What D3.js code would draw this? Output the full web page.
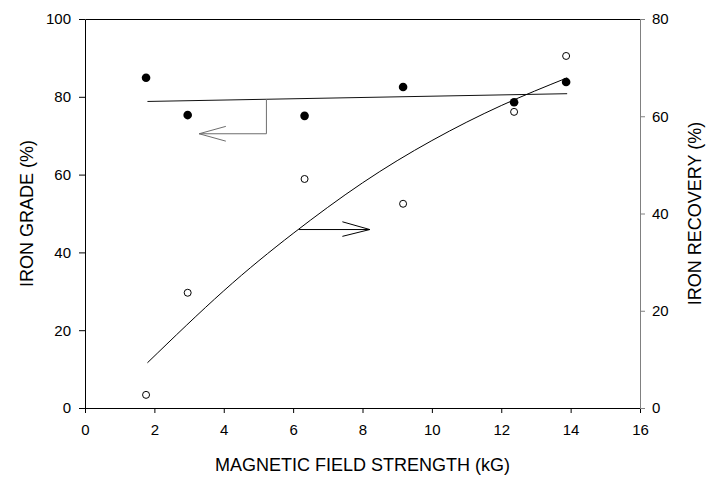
<!DOCTYPE html>
<html>
<head>
<meta charset="utf-8">
<script src="https://cdn.jsdelivr.net/npm/d3@7"></script>
<style>
  html, body { margin: 0; padding: 0; background: #fff; }
  svg { display: block; font-family: "Liberation Sans", Arial, sans-serif; }
</style>
</head>
<body>
<svg id="chart" width="708" height="479"></svg>
<script>
// Measured data: magnetic field strength vs. iron grade and iron recovery
const fieldStrength = [1.76, 2.96, 6.33, 9.17, 12.37, 13.87];
const ironGrade     = [84.9, 75.3, 75.1, 82.5, 78.6, 83.8];
const ironRecovery  = [2.7, 23.7, 47.1, 42.0, 60.9, 72.4];

// Fitted trend lines
const gradeFitX     = [1.8, 13.9];
const gradeFit      = [78.8, 80.8];
const recoveryFitX  = [1.8, 4, 6, 8, 10, 12, 13.9];
const recoveryFit   = [9.3, 24.1, 35.9, 46.3, 55.0, 62.2, 67.9];

// Axis ticks
const xTicks = [0, 2, 4, 6, 8, 10, 12, 14, 16];
const gradeTicks = [0, 20, 40, 60, 80, 100];
const recoveryTicks = [0, 20, 40, 60, 80];

// Pointer arrows tying each curve to its axis (data units)
const gradeArrow = [[5.23, 79.4], [5.23, 70.5], [3.29, 70.5]];
const gradeArrowHead = [[4.06, 72.4], [3.29, 70.5], [4.06, 68.6]];
const recoveryArrow = [[6.17, 36.7], [8.21, 36.7]];
const recoveryArrowHead = [[7.42, 38.3], [8.21, 36.7], [7.42, 35.3]];

const svg = d3.select("#chart");
const plotLeft = 85, plotRight = 640, plotTop = 19, plotBottom = 408;

const x = d3.scaleLinear().domain([0, 16]).range([plotLeft, plotRight]);
const yGrade = d3.scaleLinear().domain([0, 100]).range([plotBottom, plotTop]);
const yRec = d3.scaleLinear().domain([0, 80]).range([plotBottom, plotTop]);

// Top frame line
svg.append("line")
  .attr("x1", plotLeft + 0.5).attr("x2", plotRight + 0.5)
  .attr("y1", plotTop + 0.5).attr("y2", plotTop + 0.5)
  .attr("stroke", "#000").attr("stroke-width", 1);

// Bottom axis
const gx = svg.append("g").attr("transform", `translate(0,${plotBottom})`)
  .call(d3.axisBottom(x).tickValues(xTicks).tickFormat(d3.format("d"))
    .tickSize(5).tickSizeOuter(0).tickPadding(11));

// Left axis (grade)
const gl = svg.append("g").attr("transform", `translate(${plotLeft},0)`)
  .call(d3.axisLeft(yGrade).tickValues(gradeTicks).tickFormat(d3.format("d"))
    .tickSize(6).tickSizeOuter(0).tickPadding(8));

// Right axis (recovery)
const gr = svg.append("g").attr("transform", `translate(${plotRight},0)`)
  .call(d3.axisRight(yRec).tickValues(recoveryTicks).tickFormat(d3.format("d"))
    .tickSize(5).tickSizeOuter(0).tickPadding(7));

[gx, gl, gr].forEach(g => {
  g.selectAll("text").attr("font-size", 15).attr("fill", "#000")
    .attr("font-family", "'Liberation Sans', Arial, sans-serif");
  g.selectAll("path, line").attr("stroke", "#000");
});
gr.selectAll("path, line").attr("stroke", "#808080");

// Axis titles
svg.append("text")
  .attr("x", (plotLeft + plotRight) / 2).attr("y", 471)
  .attr("text-anchor", "middle").attr("font-size", 18)
  .text("MAGNETIC FIELD STRENGTH (kG)");

svg.append("text")
  .attr("transform", `translate(33,${(plotTop + plotBottom) / 2}) rotate(-90)`)
  .attr("text-anchor", "middle").attr("font-size", 18)
  .text("IRON GRADE (%)");

svg.append("text")
  .attr("transform", `translate(701,${(plotTop + plotBottom) / 2}) rotate(-90)`)
  .attr("text-anchor", "middle").attr("font-size", 18)
  .text("IRON RECOVERY (%)");

// Fit lines
const gradeLine = d3.line().x(d => x(d[0])).y(d => yGrade(d[1]));
const recLine = d3.line().x(d => x(d[0])).y(d => yRec(d[1])).curve(d3.curveNatural);

svg.append("path")
  .datum(gradeFitX.map((v, i) => [v, gradeFit[i]]))
  .attr("d", gradeLine).attr("fill", "none")
  .attr("stroke", "#111").attr("stroke-width", 1);

svg.append("path")
  .datum(recoveryFitX.map((v, i) => [v, recoveryFit[i]]))
  .attr("d", recLine).attr("fill", "none")
  .attr("stroke", "#000").attr("stroke-width", 1);

// Arrows
svg.append("path").datum(gradeArrow).attr("d", gradeLine)
  .attr("fill", "none").attr("stroke", "#6e6e6e").attr("stroke-width", 1);
svg.append("path").datum(gradeArrowHead).attr("d", gradeLine)
  .attr("fill", "none").attr("stroke", "#6e6e6e").attr("stroke-width", 1);

const recStraight = d3.line().x(d => x(d[0])).y(d => yRec(d[1]));
svg.append("path").datum(recoveryArrow).attr("d", recStraight)
  .attr("fill", "none").attr("stroke", "#000").attr("stroke-width", 1);
svg.append("path").datum(recoveryArrowHead).attr("d", recStraight)
  .attr("fill", "none").attr("stroke", "#000").attr("stroke-width", 1);

// Grade points (filled)
svg.append("g").selectAll("circle")
  .data(fieldStrength.map((v, i) => [v, ironGrade[i]]))
  .join("circle")
  .attr("cx", d => x(d[0])).attr("cy", d => yGrade(d[1]))
  .attr("r", 4.3).attr("fill", "#000");

// Recovery points (open)
svg.append("g").selectAll("circle")
  .data(fieldStrength.map((v, i) => [v, ironRecovery[i]]))
  .join("circle")
  .attr("cx", d => x(d[0])).attr("cy", d => yRec(d[1]))
  .attr("r", 3.5).attr("fill", "#fff")
  .attr("stroke", "#000").attr("stroke-width", 1);
</script>
</body>
</html>
